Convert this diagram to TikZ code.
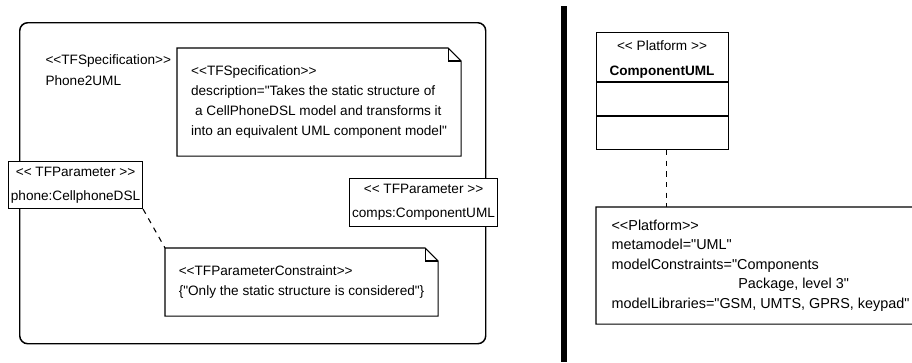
\documentclass[tikz,border=0pt]{standalone}
\usepackage{fontspec}
\newfontfamily\umlfont{Liberation Sans}
\usetikzlibrary{calc}

% folded-corner outline of a UML note
\newcommand{\notefold}[1]{%
  \draw (#1.north west) -- ([xshift=-9.75pt]#1.north east) -- ([yshift=-9.75pt]#1.north east)
        -- (#1.south east) -- (#1.south west) -- cycle;
  \draw ([xshift=-9.75pt]#1.north east) |- ([yshift=-9.75pt]#1.north east);}

\begin{document}
\begin{tikzpicture}[x=0.75pt, y=-0.75pt, line width=0.8pt,
    font=\umlfont\fontsize{10.2}{15}\selectfont,
    frame/.style={draw, line width=1.1pt, rounded corners=6pt, inner sep=0pt, anchor=north west},
    param/.style={draw, fill=white, align=center, inner sep=0pt, anchor=north west,
                  font=\umlfont\fontsize{10.2}{18}\selectfont},
    note/.style={align=left, inner sep=0pt, anchor=north west},
    link/.style={draw, dash pattern=on 4pt off 4pt}]

  \clip (0,0) rectangle (912,362);

  % transformation specification
  \node[frame, minimum width=349.5pt, minimum height=240.75pt] (spec) at (19,22) {};
  \node[anchor=west, align=left, inner sep=0pt, font=\umlfont\fontsize{10.2}{15.75}\selectfont]
    (specname) at (45,70) {<<TFSpecification>>\\Phone2UML};

  \node[note, minimum width=212.25pt, minimum height=80.25pt] (desc) at (177,48)
    {<<TFSpecification>>\\description="Takes the static structure of\\
     \hspace*{3pt}a CellPhoneDSL model and transforms it\\into an equivalent UML component model"};
  \notefold{desc}

  \node[param, minimum width=100.5pt, minimum height=35.25pt] (phone) at (8,161)
    {<< TFParameter >>\\phone:CellphoneDSL};
  \node[param, minimum width=111pt, minimum height=36pt] (comps) at (349,178)
    {<< TFParameter >>\\comps:ComponentUML};

  \node[note, minimum width=204pt, minimum height=50.25pt] (constr) at (165,248)
    {<<TFParameterConstraint>>\\\{"Only the static structure is considered"\}};
  \notefold{constr}
  \draw[link] (phone.south east) -- (constr.north west);

  % platform side
  \draw[line width=4.5pt] (564,6) -- (564,362);

  \node[draw, anchor=north west, inner sep=0pt, minimum width=99pt, minimum height=87.75pt] (cls) at (596,32) {};
  \node[align=center, inner sep=0pt, font=\umlfont\fontsize{10.2}{18.75}\selectfont] (clsname) at (662,59.5)
    {<< Platform >>\\\textbf{ComponentUML}};
  \draw ([yshift=-37.5pt]cls.north west) -- ([yshift=-37.5pt]cls.north east);
  \draw ([yshift=-63pt]cls.north west) -- ([yshift=-63pt]cls.north east);

  \node[note, minimum width=246pt, minimum height=87pt, font=\umlfont\fontsize{10.8}{14.6}\selectfont] (pnote) at (596,207)
    {<<Platform>>\\metamodel="UML"\\modelConstraints="Components\\
     \hspace*{95pt}Package, level 3"\\modelLibraries="GSM, UMTS, GPRS, keypad"};
  \notefold{pnote}

  \coordinate (clsfoot) at ([xshift=3pt]cls.south);
  \draw[link] (clsfoot) -- (clsfoot |- pnote.north);
\end{tikzpicture}
\end{document}
